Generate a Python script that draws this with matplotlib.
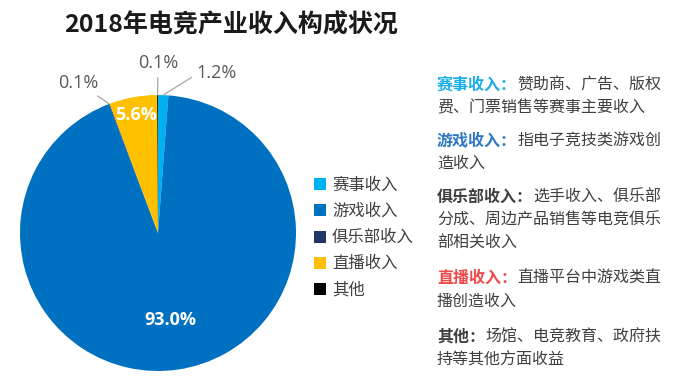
import numpy as np
import matplotlib
matplotlib.use("Agg")
from matplotlib import pyplot as plt
from matplotlib.patches import Patch

plt.rcParams['font.family'] = ['Noto Sans CJK SC', 'DejaVu Sans']

categories = ['赛事收入', '游戏收入', '俱乐部收入', '直播收入', '其他']
shares = [1.2, 93.0, 0.1, 5.6, 0.1]
colors = ['#00B0F0', '#0070C0', '#1F3864', '#FFC000', '#000000']

notes_head = ['赛事收入：', '游戏收入：', '俱乐部收入：', '直播收入：', '其他：']
notes_head_colors = ['#1AAEE8', '#2F79C4', '#404040', '#F04848', '#404040']
notes_body = [
    ['赞助商、广告、版权', '费、门票销售等赛事主要收入'],
    ['指电子竞技类游戏创', '造收入'],
    ['选手收入、俱乐部', '分成、周边产品销售等电竞俱乐', '部相关收入'],
    ['直播平台中游戏类直', '播创造收入'],
    ['场馆、电竞教育、政府扶', '持等其他方面收益'],
]

W, H = 675, 388
fig = plt.figure(figsize=(W / 100, H / 100), dpi=100)

# pie: centre (158,233), radius 138 px
cx, cy, r = 158, 233, 138
ax = fig.add_axes([(cx - r) / W, (H - cy - r) / H, 2 * r / W, 2 * r / H])
wedges, _ = ax.pie(shares, colors=colors, startangle=90, counterclock=False,
                   wedgeprops=dict(linewidth=0))
ax.set_xlim(-1, 1)
ax.set_ylim(-1, 1)
ax.set_aspect('equal')
ax.axis('off')

lbl_font = ['Open Sans', 'Noto Sans CJK SC']
# inside labels (radius) / outside labels (text position)
inside = {1: 0.64, 3: 0.87}
outside = {0: (0.28, 1.16), 2: (-0.58, 1.09), 4: (0.0, 1.23)}
for i, (w, v) in enumerate(zip(wedges, shares)):
    ang = np.deg2rad((w.theta1 + w.theta2) / 2)
    edge = (np.cos(ang), np.sin(ang))
    txt = f'{v:.1f}%'
    if i in inside:
        rr = inside[i]
        ax.text(rr * edge[0], rr * edge[1], txt, ha='center', va='center',
                color='white', fontsize=13, fontweight='bold', family=lbl_font)
    else:
        tx, ty = outside[i]
        ha = 'left' if i == 0 else 'center'
        conn = 'angle,angleA=0,angleB=32,rad=0' if i == 0 else 'arc3'
        ax.annotate(txt, xy=edge, xytext=(tx, ty), ha=ha, va='center',
                    color='#595959', fontsize=13, family=lbl_font,
                    arrowprops=dict(arrowstyle='-', color='#A6A6A6', lw=0.9,
                                    shrinkA=2, shrinkB=0,
                                    connectionstyle=conn))

fig.text(64 / W, 1 - 25 / H, '2018年电竞产业收入构成状况', ha='left', va='center',
         fontsize=18, fontweight='bold', color='#1a1a1a')

handles = [Patch(facecolor=c, edgecolor='none') for c in colors]
fig.legend(handles, categories, loc='upper left',
           bbox_to_anchor=(306 / W, 1 - 169 / H), frameon=False,
           fontsize=11.8, handlelength=0.75, handleheight=0.75,
           handletextpad=0.35, labelspacing=0.55, borderpad=0,
           labelcolor='#404040')

# notes on the right
tax = fig.add_axes([0, 0, 1, 1])
tax.axis('off')
group_y = [85, 140, 197, 278, 337]
line_h = 23
fs = 11.5
for head, hc, body, gy in zip(notes_head, notes_head_colors, notes_body, group_y):
    h = tax.text(437 / W, 1 - gy / H, head, ha='left', va='center',
                 fontsize=fs, fontweight='bold', color=hc)
    tax.annotate(body[0], xy=(1, 0.5), xycoords=h, ha='left', va='center',
                 fontsize=fs, color='#404040')
    for k, line in enumerate(body[1:], start=1):
        tax.text(437 / W, 1 - (gy + k * line_h) / H, line, ha='left',
                 va='center', fontsize=fs, color='#404040')

fig.savefig('out.png', dpi=100)
